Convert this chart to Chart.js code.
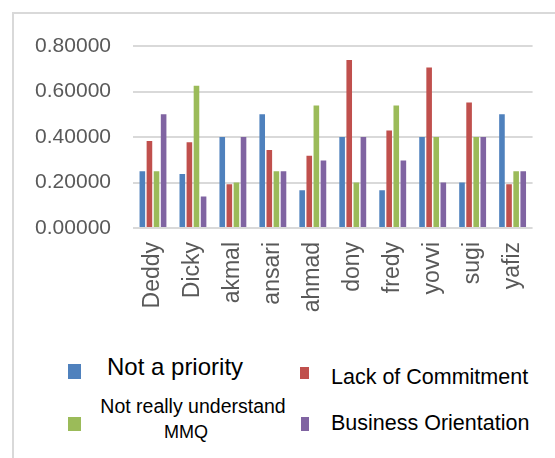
<!DOCTYPE html>
<html>
<head>
<meta charset="utf-8">
<script src="https://cdn.jsdelivr.net/npm/chart.js@4/dist/chart.umd.min.js"></script>
<style>
  html, body { margin: 0; padding: 0; background: #fff; width: 555px; height: 458px; overflow: hidden; }
  #frame { position: absolute; left: 12px; top: 12px; width: 620px; height: 520px; border: 2px solid #d9d9d9; box-sizing: border-box; }
  #wrap { position: absolute; left: 0; top: 0; width: 555px; height: 340px; }
  .lg { position: absolute; font-family: "Liberation Sans", Arial, sans-serif; color: #000; line-height: 1; white-space: nowrap; }
  .mk { position: absolute; }
</style>
</head>
<body>
<div id="frame"></div>
<div id="wrap"><canvas id="c" width="555" height="340"></canvas></div>
<div id="legend"></div>
<script>
const categories = ['Deddy', 'Dicky', 'akmal', 'ansari', 'ahmad', 'dony', 'fredy', 'yovvi', 'sugi', 'yafiz'];
const seriesNames = ['Not a priority', 'Lack of Commitment', 'Not really understand MMQ', 'Business Orientation'];
const notPriority = [0.25, 0.237, 0.40, 0.50, 0.166, 0.40, 0.166, 0.40, 0.20, 0.50];
const lackOfCommitment = [0.382, 0.377, 0.192, 0.343, 0.318, 0.738, 0.429, 0.705, 0.552, 0.192];
const notUnderstand = [0.25, 0.625, 0.20, 0.25, 0.539, 0.20, 0.539, 0.40, 0.40, 0.25];
const businessOrientation = [0.50, 0.138, 0.40, 0.25, 0.297, 0.40, 0.297, 0.20, 0.40, 0.25];
const yTicks = [0, 0.2, 0.4, 0.6, 0.8];

const colors = ['#4F81BD', '#C0504D', '#9BBB59', '#8064A2'];
const seriesValues = [notPriority, lackOfCommitment, notUnderstand, businessOrientation];

new Chart(document.getElementById('c'), {
  type: 'bar',
  data: {
    labels: categories,
    datasets: seriesValues.map((vals, i) => ({
      label: seriesNames[i],
      data: vals,
      backgroundColor: colors[i],
      borderWidth: 0,
      categoryPercentage: 0.71,
      barPercentage: 0.79
    }))
  },
  options: {
    responsive: false,
    animation: false,
    devicePixelRatio: 1,
    layout: { padding: { left: 0, right: 16, top: 46, bottom: 0 } },
    plugins: { legend: { display: false }, tooltip: { enabled: false } },
    scales: {
      x: {
        grid: { display: false, drawTicks: false },
        border: { display: false },
        ticks: {
          minRotation: 90, maxRotation: 90, padding: 14,
          color: '#595959',
          font: { family: '"Liberation Sans", Arial, sans-serif', size: 23 }
        },
        afterFit: (s) => { s.height = 112; }
      },
      y: {
        min: 0, max: 0.8,
        afterBuildTicks: (s) => { s.ticks = yTicks.map(v => ({ value: v })); },
        grid: { color: '#d9d9d9', lineWidth: 2, drawTicks: false },
        border: { display: false },
        ticks: {
          padding: 22,
          color: '#595959',
          font: { family: '"Liberation Sans", Arial, sans-serif', size: 21 },
          callback: (v) => Number(v).toFixed(5)
        },
        afterFit: (s) => { s.width = 133; }
      }
    }
  }
});

// Legend (HTML), laid out in two columns like the reference
const legendLayout = [
  { mk: [68, 364, 13, 15], lines: [{ x: 107, top: 355, size: 24 }] },
  { mk: [300, 367, 9, 12], lines: [{ x: 331, top: 366.5, size: 21.5 }] },
  { mk: [68, 417, 13, 14], lines: [{ cx: 193, top: 397, size: 19.5 }, { cx: 186, top: 423, size: 18 }], split: true },
  { mk: [301, 417, 8, 14], lines: [{ x: 331, top: 412.5, size: 21.5 }] }
];
const lg = document.getElementById('legend');
seriesNames.forEach((name, i) => {
  const L = legendLayout[i];
  const m = document.createElement('div');
  m.className = 'mk';
  m.style.cssText = `left:${L.mk[0]}px;top:${L.mk[1]}px;width:${L.mk[2]}px;height:${L.mk[3]}px;background:${colors[i]};`;
  lg.appendChild(m);
  let parts = [name];
  if (L.split) {
    const k = name.lastIndexOf(' ');
    parts = [name.slice(0, k), name.slice(k + 1)];
  }
  parts.forEach((txt, j) => {
    const p = L.lines[j];
    const t = document.createElement('div');
    t.className = 'lg';
    t.textContent = txt;
    t.style.fontSize = p.size + 'px';
    t.style.top = p.top + 'px';
    if (p.cx !== undefined) {
      t.style.left = (p.cx - 150) + 'px';
      t.style.width = '300px';
      t.style.textAlign = 'center';
    } else {
      t.style.left = p.x + 'px';
    }
    lg.appendChild(t);
  });
});
</script>
</body>
</html>
